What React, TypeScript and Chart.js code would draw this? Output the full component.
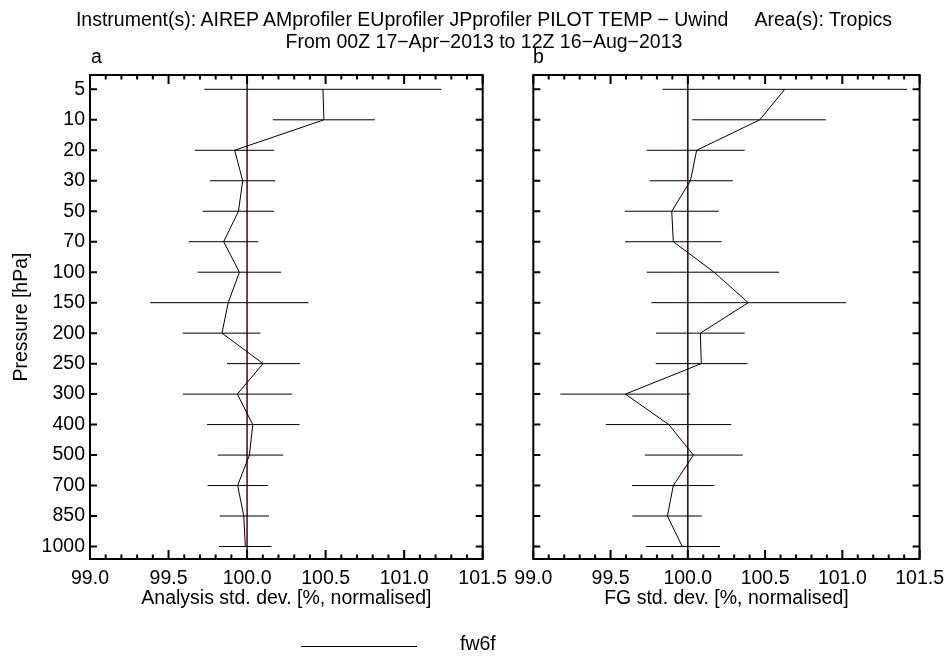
import React, { useEffect, useRef } from 'react';
import { Chart, registerables } from 'chart.js';

Chart.register(...registerables);

const FONT = '"Liberation Sans", Arial, Helvetica, sans-serif';
const FS = 19.5;

// ---------- data ----------
const pressureLevels = ['5', '10', '20', '30', '50', '70', '100', '150', '200', '250', '300', '400', '500', '700', '850', '1000'];
const xTickValues = [99.0, 99.5, 100.0, 100.5, 101.0, 101.5];
const seriesLabel = 'fw6f';
const referenceValue = 100.0;

const analysisMean = [100.483, 100.489, 99.921, 99.972, 99.945, 99.851, 99.951, 99.88, 99.84, 100.102, 99.938, 100.036, 100.015, 99.94, 99.979, 99.989];
const analysisLow = [99.728, 100.164, 99.668, 99.764, 99.717, 99.628, 99.685, 99.383, 99.59, 99.872, 99.59, 99.745, 99.813, 99.749, 99.826, 99.821];
const analysisHigh = [101.237, 100.814, 100.172, 100.179, 100.172, 100.072, 100.217, 100.391, 100.085, 100.338, 100.285, 100.334, 100.23, 100.134, 100.14, 100.155];

const fgMean = [100.627, 100.466, 100.057, 100.017, 99.896, 99.906, 100.17, 100.391, 100.081, 100.087, 99.596, 99.877, 100.036, 99.906, 99.868, 99.964];
const fgLow = [99.836, 100.028, 99.734, 99.753, 99.592, 99.594, 99.734, 99.764, 99.794, 99.792, 99.175, 99.469, 99.722, 99.639, 99.641, 99.728];
const fgHigh = [101.418, 100.893, 100.368, 100.291, 100.2, 100.219, 100.591, 101.025, 100.368, 100.387, 100.015, 100.281, 100.355, 100.172, 100.091, 100.208];

const titleLine1 = 'Instrument(s): AIREP AMprofiler EUprofiler JPprofiler PILOT TEMP \u2212 Uwind     Area(s): Tropics';
const titleLine2 = 'From 00Z 17\u2212Apr\u22122013 to 12Z 16\u2212Aug\u22122013';
const xTitleA = 'Analysis std. dev. [%, normalised]';
const xTitleB = 'FG std. dev. [%, normalised]';
const yTitle = 'Pressure [hPa]';

const W = 952;
const H = 661;

const panelPlugin = {
  id: 'panelDecor',
  beforeDatasetsDraw(chart: any, _args: any, opts: any) {
    const { ctx, chartArea, scales } = chart;
    const xs = scales.x;
    const ys = scales.y;
    ctx.save();
    const xr = xs.getPixelForValue(opts.refValue);
    ctx.strokeStyle = opts.refColor;
    ctx.lineWidth = 1.5;
    ctx.beginPath();
    ctx.moveTo(xr, chartArea.top);
    ctx.lineTo(xr, chartArea.bottom);
    ctx.stroke();
    ctx.strokeStyle = '#000';
    ctx.lineWidth = 1;
    opts.low.forEach((lo: number, i: number) => {
      const y = ys.getPixelForValue(i);
      ctx.beginPath();
      ctx.moveTo(xs.getPixelForValue(lo), y);
      ctx.lineTo(xs.getPixelForValue(opts.high[i]), y);
      ctx.stroke();
    });
    ctx.restore();
  },
  afterDraw(chart: any) {
    const { ctx, chartArea, scales } = chart;
    const xs = scales.x;
    const ys = scales.y;
    const { left, right, top, bottom } = chartArea;
    ctx.save();
    ctx.strokeStyle = '#000';
    ctx.lineWidth = 2;
    ctx.lineCap = 'butt';
    ctx.strokeRect(left, top, right - left, bottom - top);
    const drawX = (v: number, len: number) => {
      const px = xs.getPixelForValue(v);
      ctx.beginPath();
      ctx.moveTo(px, bottom);
      ctx.lineTo(px, bottom - len);
      ctx.moveTo(px, top);
      ctx.lineTo(px, top + len);
      ctx.stroke();
    };
    const ticks = xs.ticks.map((t: any) => t.value);
    ticks.forEach((v: number, i: number) => {
      drawX(v, 9);
      if (i < ticks.length - 1) {
        const step = (ticks[i + 1] - v) / 5;
        for (let k = 1; k < 5; k++) drawX(v + step * k, 4.5);
      }
    });
    ys.ticks.forEach((t: any) => {
      const py = ys.getPixelForValue(t.value);
      ctx.beginPath();
      ctx.moveTo(left, py);
      ctx.lineTo(left + 7, py);
      ctx.moveTo(right, py);
      ctx.lineTo(right - 7, py);
      ctx.stroke();
    });
    ctx.restore();
  },
};

function makeConfig(opts: {
  mean: number[];
  low: number[];
  high: number[];
  xTitle: string;
  showY: boolean;
  padLeft: number;
  padRight: number;
  yWidth: number;
  refColor: string;
}): any {
  const font = { family: FONT, size: FS };
  return {
    type: 'scatter',
    data: {
      datasets: [
        {
          label: seriesLabel,
          data: opts.mean.map((m, i) => ({ x: m, y: i })),
          showLine: true,
          borderColor: '#000',
          borderWidth: 1,
          pointRadius: 0,
          tension: 0,
          clip: false,
        },
      ],
    },
    plugins: [panelPlugin],
    options: {
      animation: false,
      responsive: false,
      maintainAspectRatio: false,
      events: [],
      layout: { padding: { top: 75, left: opts.padLeft, right: opts.padRight, bottom: 46.6 } },
      plugins: {
        legend: { display: false },
        tooltip: { enabled: false },
        title: { display: false },
        panelDecor: { low: opts.low, high: opts.high, refValue: referenceValue, refColor: opts.refColor },
      },
      scales: {
        x: {
          type: 'linear',
          position: 'bottom',
          min: xTickValues[0],
          max: xTickValues[xTickValues.length - 1],
          afterBuildTicks: (s: any) => {
            s.ticks = xTickValues.map((v) => ({ value: v }));
          },
          ticks: {
            callback: (v: any) => Number(v).toFixed(1),
            font,
            color: '#000',
            padding: 8,
            maxRotation: 0,
            autoSkip: false,
          },
          grid: { display: false, drawTicks: false },
          border: { display: false },
          title: { display: true, text: opts.xTitle, font, color: '#000', padding: { top: 0, bottom: 4 } },
          afterFit: (s: any) => {
            s.height = 55.4;
          },
        },
        y: {
          type: 'linear',
          reverse: true,
          min: -0.47,
          max: 15.41,
          afterBuildTicks: (s: any) => {
            s.ticks = pressureLevels.map((_, i) => ({ value: i }));
          },
          ticks: {
            display: opts.showY,
            callback: (v: any) => pressureLevels[Math.round(Number(v))],
            font,
            color: '#000',
            padding: 5,
            autoSkip: false,
          },
          grid: { display: false, drawTicks: false },
          border: { display: false },
          title: { display: opts.showY, text: yTitle, font, color: '#000', padding: { top: 4, bottom: 0 } },
          afterFit: (s: any) => {
            s.width = opts.yWidth;
          },
        },
      },
    },
  };
}

export default function App() {
  const refA = useRef<HTMLCanvasElement | null>(null);
  const refB = useRef<HTMLCanvasElement | null>(null);

  useEffect(() => {
    const a = new Chart(
      refA.current as HTMLCanvasElement,
      makeConfig({
        mean: analysisMean,
        low: analysisLow,
        high: analysisHigh,
        xTitle: xTitleA,
        showY: true,
        padLeft: 5.6,
        padRight: W - 482.7,
        yWidth: 84.4,
        refColor: '#4a0a0a',
      })
    );
    const b = new Chart(
      refB.current as HTMLCanvasElement,
      makeConfig({
        mean: fgMean,
        low: fgLow,
        high: fgHigh,
        xTitle: xTitleB,
        showY: false,
        padLeft: 523.3,
        padRight: W - 925,
        yWidth: 10,
        refColor: '#2a0505',
      })
    );
    return () => {
      a.destroy();
      b.destroy();
    };
  }, []);

  const text: React.CSSProperties = {
    position: 'absolute',
    fontFamily: FONT,
    fontSize: FS,
    lineHeight: `${FS}px`,
    color: '#000',
    whiteSpace: 'pre',
  };

  return (
    <div style={{ position: 'fixed', left: 0, top: 0, width: W, height: H, background: '#fff', overflow: 'hidden' }}>
      <canvas ref={refA} width={W} height={H} style={{ position: 'absolute', left: 0, top: 0 }} />
      <canvas ref={refB} width={W} height={H} style={{ position: 'absolute', left: 0, top: 0 }} />
      <div style={{ ...text, top: 9.8, left: 0, width: 968, textAlign: 'center' }}>{titleLine1}</div>
      <div style={{ ...text, top: 32.2, left: 0, width: 968, textAlign: 'center' }}>{titleLine2}</div>
      <div style={{ ...text, top: 46.8, left: 91 }}>a</div>
      <div style={{ ...text, top: 46.8, left: 533 }}>b</div>
      <div style={{ position: 'absolute', left: 300.7, top: 646, width: 116, height: 1, background: '#000' }} />
      <div style={{ ...text, top: 633.5, left: 460 }}>{seriesLabel}</div>
    </div>
  );
}
